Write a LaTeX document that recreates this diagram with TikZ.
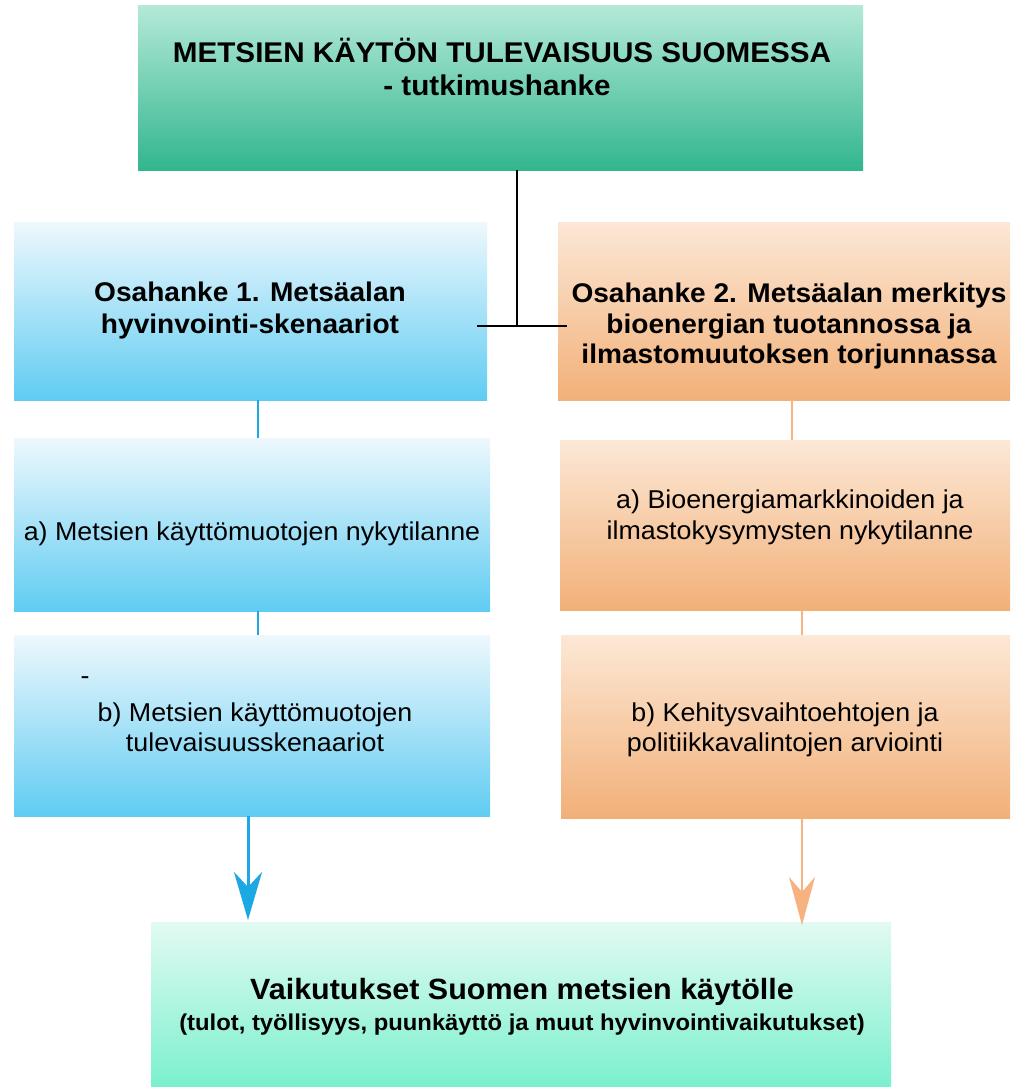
\documentclass[tikz,border=0pt]{standalone}
\usepackage{fontspec}
\setmainfont{Liberation Sans}[FakeStretch=1.04]
\usetikzlibrary{arrows.meta}
\definecolor{topA}{RGB}{180,233,216}
\definecolor{topB}{RGB}{50,182,142}
\definecolor{bluA}{RGB}{238,248,253}
\definecolor{bluB}{RGB}{96,204,242}
\definecolor{oraA}{RGB}{252,232,214}
\definecolor{oraB}{RGB}{242,176,120}
\definecolor{botA}{RGB}{226,250,242}
\definecolor{botB}{RGB}{122,240,206}
\definecolor{bluL}{RGB}{28,168,226}
\definecolor{oraL}{RGB}{246,178,128}
\tikzset{
  box/.style={draw=none, inner sep=0pt, outer sep=0pt},
  topbox/.style={box, top color=topA, bottom color=topB},
  blubox/.style={box, top color=bluA, bottom color=bluB},
  orabox/.style={box, top color=oraA, bottom color=oraB},
  botbox/.style={box, top color=botA, bottom color=botB},
  ttl/.style={anchor=base, inner sep=0pt, font=\fontsize{28.5}{32}\selectfont\bfseries},
  hd/.style={anchor=base, inner sep=0pt, font=\fontsize{27}{31}\selectfont\bfseries},
  tx/.style={anchor=base, inner sep=0pt, font=\fontsize{25.8}{30}\selectfont},
  bm/.style={anchor=base, inner sep=0pt, font=\fontsize{29.3}{33}\selectfont\bfseries},
  bs/.style={anchor=base, inner sep=0pt, font=\fontsize{22.9}{27}\selectfont\bfseries},
  blk/.style={draw=black, line width=2pt},
  bcon/.style={draw=bluL, line width=2pt},
  ocon/.style={draw=oraL, line width=2pt},
}
\begin{document}
\begin{tikzpicture}[x=1pt,y=-1pt]
\useasboundingbox[fill=white] (0,0) rectangle (1010,1087);
% boxes
\node[topbox, minimum width=725pt, minimum height=165pt] (top) at (500.5,87.5) {};
\node[blubox, minimum width=473pt, minimum height=178pt] (l1) at (250.5,311) {};
\node[orabox, minimum width=452pt, minimum height=178pt] (r1) at (784,311) {};
\node[blubox, minimum width=476pt, minimum height=173pt] (la) at (252,524.5) {};
\node[orabox, minimum width=450pt, minimum height=170pt] (ra) at (785,525) {};
\node[blubox, minimum width=476pt, minimum height=181pt] (lb) at (252,725.5) {};
\node[orabox, minimum width=449pt, minimum height=183pt] (rb) at (785.5,726.5) {};
\node[botbox, minimum width=740pt, minimum height=165pt] (bot) at (521,1004.5) {};
% texts
\node[ttl] (t1) at (502,62) {METSIEN KÄYTÖN TULEVAISUUS SUOMESSA};
\node[ttl] (t2) at (497,95) {- tutkimushanke};
\node[hd] (l1a) at (250,301) {Osahanke 1. Metsäalan};
\node[hd] (l1b) at (250,333) {hyvinvointi-skenaariot};
\node[hd] (r1a) at (789,302) {Osahanke 2. Metsäalan merkitys};
\node[hd] (r1b) at (789,333) {bioenergian tuotannossa ja};
\node[hd] (r1c) at (789,363) {ilmastomuutoksen torjunnassa};
\node[tx] (lat) at (252,540) {a) Metsien käyttömuotojen nykytilanne};
\node[tx] (rat1) at (790,508) {a) Bioenergiamarkkinoiden ja};
\node[tx] (rat2) at (790,539) {ilmastokysymysten nykytilanne};
\node[tx] (dash) at (85,684) {-};
\node[tx] (lbt1) at (255,721) {b) Metsien käyttömuotojen};
\node[tx] (lbt2) at (255,751) {tulevaisuusskenaariot};
\node[tx] (rbt1) at (785,721) {b) Kehitysvaihtoehtojen ja};
\node[tx] (rbt2) at (785,751) {politiikkavalintojen arviointi};
\node[bm] (bt1) at (522,999) {Vaikutukset Suomen metsien käytölle};
\node[bs] (bt2) at (522,1030) {(tulot, työllisyys, puunkäyttö ja muut hyvinvointivaikutukset)};
% connectors
\coordinate (jn) at (517,326);
\coordinate (hl) at (477,326);
\coordinate (hr) at (567,326);
\coordinate (xl) at (258,0);
\coordinate (xr) at (792,0);
\coordinate (xr2) at (802,0);
\coordinate (al) at (248,0);
\draw[blk] (top.south -| jn) -- (jn);
\draw[blk] (hl) -- (hr);
\draw[bcon] (l1.south -| xl) -- (la.north -| xl);
\draw[bcon] (la.south -| xl) -- (lb.north -| xl);
\draw[ocon] (r1.south -| xr) -- (ra.north -| xr);
\draw[ocon] (ra.south -| xr2) -- (rb.north -| xr2);
\draw[draw=bluL, line width=3pt, -{Stealth[length=48pt,width=28pt,inset=15pt]}] (lb.south -| al) -- ([yshift=2pt]bot.north -| al);
\draw[draw=oraL, line width=2.5pt, -{Stealth[length=48pt,width=26pt,inset=15pt]}] (rb.south -| xr2) -- ([yshift=-3pt]bot.north -| xr2);
\end{tikzpicture}
\end{document}
